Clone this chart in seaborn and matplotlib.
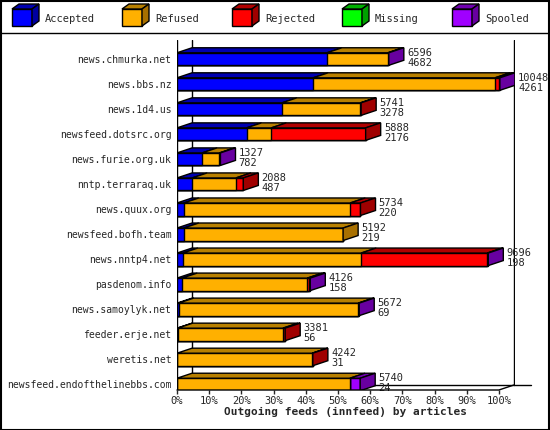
import numpy as np
import pandas as pd
import matplotlib
matplotlib.use("Agg")
import matplotlib.pyplot as plt
from matplotlib.patches import Polygon, Rectangle
import seaborn as sns

feeds = ["news.chmurka.net", "news.bbs.nz", "news.1d4.us", "newsfeed.dotsrc.org",
         "news.furie.org.uk", "nntp.terraraq.uk", "news.quux.org", "newsfeed.bofh.team",
         "news.nntp4.net", "pasdenom.info", "news.samoylyk.net", "feeder.erje.net",
         "weretis.net", "newsfeed.endofthelinebbs.com"]
accepted = [46.6, 42.3, 32.6, 21.6, 7.8, 4.7, 2.1, 2.1, 1.8, 1.6, 0.5, 0.2, 0.0, 0.0]
refused  = [18.9, 56.5, 24.4, 7.7, 5.4, 13.6, 51.7, 49.5, 55.4, 38.9, 55.8, 32.7, 42.0, 53.7]
rejected = [0.0, 1.2, 0.2, 29.3, 0.0, 2.3, 3.2, 0.0, 39.2, 0.6, 0.0, 0.7, 0.2, 0.0]
missing  = [0.0] * 14
spooled  = [0.3, 0.3, 0.0, 0.0, 0.3, 0.0, 0.0, 0.0, 0.3, 0.3, 0.3, 0.0, 0.0, 3.2]
offered  = [6596, 10048, 5741, 5888, 1327, 2088, 5734, 5192, 9696, 4126, 5672, 3381, 4242, 5740]
acc_num  = [4682, 4261, 3278, 2176, 782, 487, 220, 219, 198, 158, 69, 56, 31, 24]
labels = ["Accepted", "Refused", "Rejected", "Missing", "Spooled"]
ticks = list(range(0, 101, 10))

front = ["#0000FF", "#FFB000", "#FF0000", "#00FF00", "#A000FF"]
top = ["#0000B0", "#B88000", "#B00000", "#00B000", "#7000B0"]
side = ["#0000A0", "#A87000", "#A00000", "#00A000", "#6800A0"]

FW, FH = 550, 430
fig = plt.figure(figsize=(5.5, 4.3), dpi=100)
sns.set_style("white")
plt.rcParams['font.family'] = ['DejaVu Sans Mono']
ax = fig.add_axes([177/FW, 40/FH, 338/FW, 350/FH])
segs = np.array([accepted, refused, rejected, missing, spooled])
cum = np.cumsum(segs, axis=0)
df = pd.DataFrame({"feed": feeds})
H = 0.5
for k in range(4, -1, -1):
    df["v"] = cum[k]
    sns.barplot(data=df, x="v", y="feed", orient="h", color=front[k], saturation=1,
                width=H, edgecolor="black", linewidth=1, ax=ax, zorder=3)
DX, DY = 4.67, 0.2
ax.set_xlim(0, 105)
ax.set_ylim(13 + 5.5/25, -0.76)
for i in range(14):
    yt = i - H/2
    left = 0
    last = None
    for k in range(5):
        w = segs[k][i]
        if w <= 0:
            continue
        ax.add_patch(Polygon([(left, yt), (left+w, yt), (left+w+DX, yt-DY), (left+DX, yt-DY)],
                             closed=True, fc=top[k], ec="black", lw=1, zorder=4))
        left += w
        last = k
    if last is not None:
        ax.add_patch(Polygon([(left, yt), (left+DX, yt-DY), (left+DX, yt+H-DY), (left, yt+H)],
                             closed=True, fc=side[last], ec="black", lw=1, zorder=4))
    ax.text(left + DX + 1, i - 0.05, f"{offered[i]}\n{acc_num[i]}", fontsize=7.5,
            va="center", ha="left", linespacing=0.95, zorder=5)
for s in ax.spines.values():
    s.set_visible(False)
yb = 13 + 5.5/25
ax.plot([0, 100, 100+DX], [yb, yb, yb-DY], color="black", lw=1, clip_on=False, zorder=6)
ax.plot([DX, DX], [-0.76, yb-DY], color="black", lw=1, zorder=1)
ax.plot([0, 0], [-0.76, yb], color="black", lw=1, zorder=1)
ax.plot([100+DX, 100+DX], [-0.76, yb-DY], color="black", lw=1, zorder=1)
ax.plot([DX, 110], [yb-DY, yb-DY], color="black", lw=1, clip_on=False, zorder=1)
ax.set_xticks(ticks)
ax.set_xticklabels([f"{t}%" for t in ticks], fontsize=7.5)
ax.tick_params(axis="x", length=3, width=1, pad=1, direction="out", bottom=True)
ax.tick_params(axis="y", length=0, pad=4, labelsize=7)
ax.set_ylabel("")
ax.set_xlabel("Outgoing feeds (innfeed) by articles", fontsize=8, fontweight="bold", labelpad=1)

def px(x, y):
    return (x/FW, 1 - y/FH)
for j, lab in enumerate(labels):
    x0 = 12 + 110*j
    y0 = 26
    pts_front = [px(x0, y0), px(x0+20, y0), px(x0+20, y0-17), px(x0, y0-17)]
    pts_top = [px(x0, y0-17), px(x0+20, y0-17), px(x0+27, y0-22), px(x0+7, y0-22)]
    pts_side = [px(x0+20, y0), px(x0+27, y0-5), px(x0+27, y0-22), px(x0+20, y0-17)]
    for pts, col in ((pts_front, front[j]), (pts_top, top[j]), (pts_side, side[j])):
        fig.add_artist(Polygon(pts, closed=True, fc=col, ec="black", lw=1, transform=fig.transFigure))
    fig.text((x0+33)/FW, 1 - 19/FH, lab, fontsize=7.5, va="center", ha="left")
fig.add_artist(plt.Line2D([0, 1], [1-33/FH, 1-33/FH], color="black", lw=1, transform=fig.transFigure))
fig.add_artist(Rectangle((0.001, 0.001), 0.997, 0.997, fill=False, ec="black", lw=1.5,
                         transform=fig.transFigure))
fig.savefig("out.png", dpi=100, facecolor="white")
